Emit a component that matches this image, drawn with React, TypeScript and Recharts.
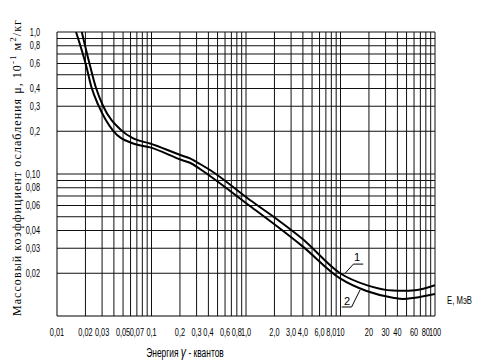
import React from 'react';
import { LineChart, Line, XAxis, YAxis, ReferenceLine, ReferenceDot } from 'recharts';

// energy of gamma quanta, MeV
const curve1E = [0.0183, 0.0223, 0.0259, 0.0305, 0.0484, 0.064, 0.0965, 0.209, 0.255, 0.326, 0.416, 1.1, 2.11, 4.0, 9.9, 18.9, 35.9, 45.8, 61.4, 100];
const curve1Mu = [1.0, 0.583, 0.403, 0.305, 0.202, 0.178, 0.164, 0.135, 0.129, 0.1176, 0.1067, 0.0656, 0.0482, 0.0347, 0.02, 0.0165, 0.0151, 0.01505, 0.0152, 0.0165];
const curve2E = [0.0159, 0.0203, 0.0233, 0.0274, 0.0391, 0.064, 0.0965, 0.209, 0.255, 0.326, 0.416, 1.1, 2.11, 4.0, 9.9, 18.9, 35.9, 45.8, 61.4, 100];
const curve2Mu = [1.0, 0.583, 0.403, 0.305, 0.202, 0.164, 0.154, 0.1255, 0.12, 0.1085, 0.0968, 0.0595, 0.043, 0.0308, 0.0184, 0.015, 0.01346, 0.01318, 0.01346, 0.0143];

const xTicks = [0.01, 0.02, 0.03, 0.05, 0.07, 0.1, 0.2, 0.3, 0.4, 0.6, 0.8, 1, 2, 3, 4, 6, 8, 10, 20, 30, 40, 60, 80, 100];
const xTickLabels = ['0,01', '0,02', '0,03', '0,05', '0,07', '0,1', '0,2', '0,3', '0,4', '0,6', '0,8', '1,0', '2,0', '3,0', '4,0', '6,0', '8,0', '10', '20', '30', '40', '60', '80', '100'];
const yTicks = [0.02, 0.03, 0.04, 0.06, 0.08, 0.1, 0.2, 0.3, 0.4, 0.6, 0.8, 1];
const yTickLabels = ['0,02', '0,03', '0,04', '0,06', '0,08', '0,10', '0,2', '0,3', '0,4', '0,6', '0,8', '1,0'];

const xGrid = [
  0.02, 0.03, 0.04, 0.05, 0.06, 0.07, 0.08, 0.09,
  0.1, 0.2, 0.3, 0.4, 0.5, 0.6, 0.7, 0.8, 0.9,
  1, 2, 3, 4, 5, 6, 7, 8, 9,
  10, 20, 30, 40, 50, 60, 70, 80, 90, 100,
];
const yGrid = [
  0.02, 0.03, 0.04, 0.05, 0.06, 0.07, 0.08, 0.09,
  0.1, 0.2, 0.3, 0.4, 0.5, 0.6, 0.7, 0.8, 0.9, 1,
];

// curve labels with leader lines (data coordinates)
const label1 = { e: 15, mu: 0.026 };
const leader1 = [{ x: 11.2, y: 0.02 }, { x: 13.7, y: 0.0232 }, { x: 17.4, y: 0.0232 }];
const label2 = { e: 11.7, mu: 0.0127 };
const leader2 = [{ x: 10.3, y: 0.01157 }, { x: 13.1, y: 0.01157 }, { x: 16.1, y: 0.01525 }];

const curve1 = curve1E.map((e, i) => ({ e, mu: curve1Mu[i] }));
const curve2 = curve2E.map((e, i) => ({ e, mu: curve2Mu[i] }));

const SANS = '"Liberation Sans", Arial, sans-serif';
const SQUEEZE = 0.7;

// condensed tick text, like the narrow font of the original drawing
const NarrowTick = (props: any) => {
  const { x, y, payload, ticks, labels, anchor, dy } = props;
  const label = labels[ticks.indexOf(payload.value)];
  return (
    <g transform={`translate(${x},${y}) scale(${SQUEEZE},1)`}>
      <text textAnchor={anchor} dy={dy} fontSize={10.5} fill="#000" fontFamily={SANS}>
        {label}
      </text>
    </g>
  );
};

export default function App() {
  return (
    <div style={{ position: 'absolute', left: 0, top: 0, width: 482, height: 364, background: '#fff' }}>
      <LineChart width={482} height={364} margin={{ top: 32, right: 47, bottom: 0, left: 0 }}>
        <XAxis
          dataKey="e"
          type="number"
          scale="log"
          domain={[0.01, 100]}
          allowDataOverflow
          ticks={xTicks}
          interval={0}
          tick={<NarrowTick ticks={xTicks} labels={xTickLabels} anchor="middle" dy="0.71em" />}
          tickLine={false}
          tickMargin={7}
          axisLine={{ stroke: '#000' }}
          height={48}
        />
        <YAxis
          dataKey="mu"
          type="number"
          scale="log"
          domain={[0.01, 1]}
          allowDataOverflow
          ticks={yTicks}
          interval={0}
          tick={<NarrowTick ticks={yTicks} labels={yTickLabels} anchor="end" dy="0.355em" />}
          tickLine={false}
          tickMargin={11}
          axisLine={{ stroke: '#000' }}
          width={57}
        />
        {xGrid.map((v) => (
          <ReferenceLine key={'x' + v} x={v} stroke="#111" strokeWidth={1} />
        ))}
        {yGrid.map((v) => (
          <ReferenceLine key={'y' + v} y={v} stroke="#111" strokeWidth={1} />
        ))}
        <Line data={curve1} dataKey="mu" type="monotone" stroke="#000" strokeWidth={2} dot={false} isAnimationActive={false} />
        <Line data={curve2} dataKey="mu" type="monotone" stroke="#000" strokeWidth={2} dot={false} isAnimationActive={false} />
        <ReferenceLine segment={[leader1[0], leader1[1]]} stroke="#000" strokeWidth={1} />
        <ReferenceLine segment={[leader1[1], leader1[2]]} stroke="#000" strokeWidth={1} />
        <ReferenceLine segment={[leader2[0], leader2[1]]} stroke="#000" strokeWidth={1} />
        <ReferenceLine segment={[leader2[1], leader2[2]]} stroke="#000" strokeWidth={1} />
        <ReferenceDot
          x={label1.e}
          y={label1.mu}
          r={0}
          fill="none"
          stroke="none"
          label={{ value: '1', position: 'center', fontSize: 11, fill: '#000', fontFamily: SANS }}
        />
        <ReferenceDot
          x={label2.e}
          y={label2.mu}
          r={0}
          fill="none"
          stroke="none"
          label={{ value: '2', position: 'center', fontSize: 11, fill: '#000', fontFamily: SANS }}
        />
      </LineChart>
      <svg width={482} height={364} style={{ position: 'absolute', left: 0, top: 0, pointerEvents: 'none' }}>
        <text
          transform="translate(21,168) rotate(-90)"
          textAnchor="middle"
          fontFamily='"Liberation Serif", "Times New Roman", serif'
          fontSize={12}
          fill="#000"
          textLength={296}
          lengthAdjust="spacing"
        >
          Массовый коэффициент ослабления μ, 10<tspan dy={-5} fontSize={9}>-1</tspan>
          <tspan dy={5}> м</tspan>
          <tspan dy={-5} fontSize={9}>2</tspan>
          <tspan dy={5}>/кг</tspan>
        </text>
        <g transform={`translate(447,304) scale(${SQUEEZE},1)`}>
          <text fontSize={11} fontFamily={SANS} fill="#000">
            E, МэВ
          </text>
        </g>
        <g transform={`translate(185,357) scale(${SQUEEZE},1)`}>
          <text textAnchor="middle" fontSize={12} fontFamily={SANS} fill="#000">
            Энергия   <tspan fontSize={15} fontStyle="italic">γ</tspan>   - квантов
          </text>
        </g>
      </svg>
    </div>
  );
}
